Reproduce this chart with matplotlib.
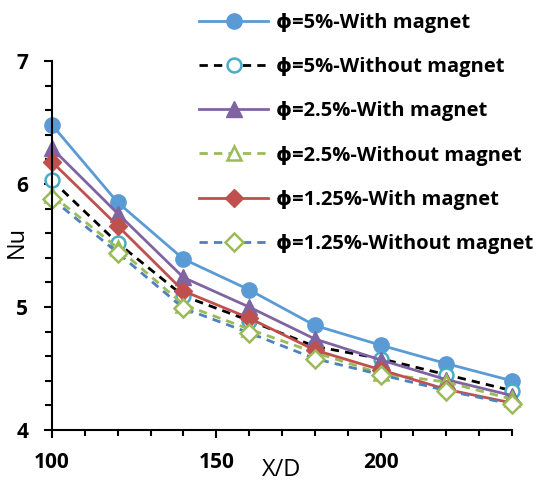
import matplotlib
matplotlib.use("Agg")
import matplotlib.pyplot as plt
from matplotlib.ticker import MultipleLocator

# ---- data ----
x_d = [100, 120, 140, 160, 180, 200, 220, 240]
phi5_with = [6.48, 5.85, 5.39, 5.14, 4.85, 4.69, 4.54, 4.40]
phi5_without = [6.03, 5.52, 5.09, 4.89, 4.68, 4.58, 4.45, 4.32]
phi25_with = [6.29, 5.76, 5.24, 5.00, 4.74, 4.57, 4.41, 4.28]
phi25_without = [5.91, 5.48, 5.02, 4.82, 4.63, 4.46, 4.39, 4.25]
phi125_with = [6.18, 5.66, 5.13, 4.91, 4.65, 4.49, 4.33, 4.22]
phi125_without = [5.88, 5.44, 4.99, 4.79, 4.58, 4.45, 4.32, 4.21]
labels = ["ϕ=5%-With magnet", "ϕ=5%-Without magnet", "ϕ=2.5%-With magnet",
          "ϕ=2.5%-Without magnet", "ϕ=1.25%-With magnet", "ϕ=1.25%-Without magnet"]
x_ticks = [100, 150, 200]
y_ticks = [4, 5, 6, 7]

plt.rcParams['font.family'] = ['Open Sans', 'DejaVu Sans']

fig = plt.figure(figsize=(5.38, 4.82), dpi=100)
ax = fig.add_axes([52/538, 1-430/482, 460/538, 369/482])

lw = 2.0
dash = (3.0, 2.2)
ms = 11
series = [
    (phi5_with, dict(color='#5B9BD5', ls='-', marker='o', mfc='#5B9BD5', mec='#5B9BD5', ms=ms)),
    (phi5_without, dict(color='black', ls=(0, dash), marker='o', mfc='white', mec='#4BACC6', ms=ms-1, mew=1.8)),
    (phi25_with, dict(color='#8064A2', ls='-', marker='^', mfc='#8064A2', mec='#8064A2', ms=ms)),
    (phi25_without, dict(color='#9BBB59', ls=(0, dash), marker='^', mfc='white', mec='#9BBB59', ms=ms-0.5, mew=1.8)),
    (phi125_with, dict(color='#C0504D', ls='-', marker='D', mfc='#C0504D', mec='#C0504D', ms=ms-2)),
    (phi125_without, dict(color='#4F81BD', ls=(0, dash), marker='D', mfc='white', mec='#9BBB59', ms=ms-2, mew=1.8)),
]
for (vals, kw), lab in zip(series, labels):
    ax.plot(x_d, vals, lw=lw, label=lab, clip_on=False, **kw)

ax.set_xlim(100, 240)
ax.set_ylim(4, 7)
ax.set_xticks(x_ticks)
ax.set_yticks(y_ticks)
ax.xaxis.set_minor_locator(MultipleLocator(10))
ax.yaxis.set_minor_locator(MultipleLocator(0.2))
for s in ['top', 'right']:
    ax.spines[s].set_visible(False)
for s in ['left', 'bottom']:
    ax.spines[s].set_linewidth(1.5)
ax.tick_params(axis='both', which='both', direction='out', width=1.5)
ax.tick_params(axis='y', which='major', length=6, pad=11, labelsize=15)
ax.tick_params(axis='y', which='minor', length=5)
ax.tick_params(axis='x', which='major', length=6, pad=10, labelsize=15)
ax.tick_params(axis='x', which='minor', length=4)
for t in ax.get_xticklabels() + ax.get_yticklabels():
    t.set_fontweight('bold')

ax.set_xlabel("X/D", fontsize=17)
ax.xaxis.set_label_coords(0.5, -0.076)
ax.set_ylabel("Nu", fontsize=17)
ax.yaxis.set_label_coords(-0.076, 0.51)
ax.yaxis.label.set_verticalalignment('center')

leg = fig.legend(loc='upper left', bbox_to_anchor=(199/538, 1-13/482),
                 frameon=False, prop={'weight': 'bold', 'size': 14.5},
                 handlelength=3.45, handletextpad=0.35, labelspacing=1.2,
                 borderpad=0, borderaxespad=0, numpoints=1)

fig.savefig("out.png", dpi=100)
